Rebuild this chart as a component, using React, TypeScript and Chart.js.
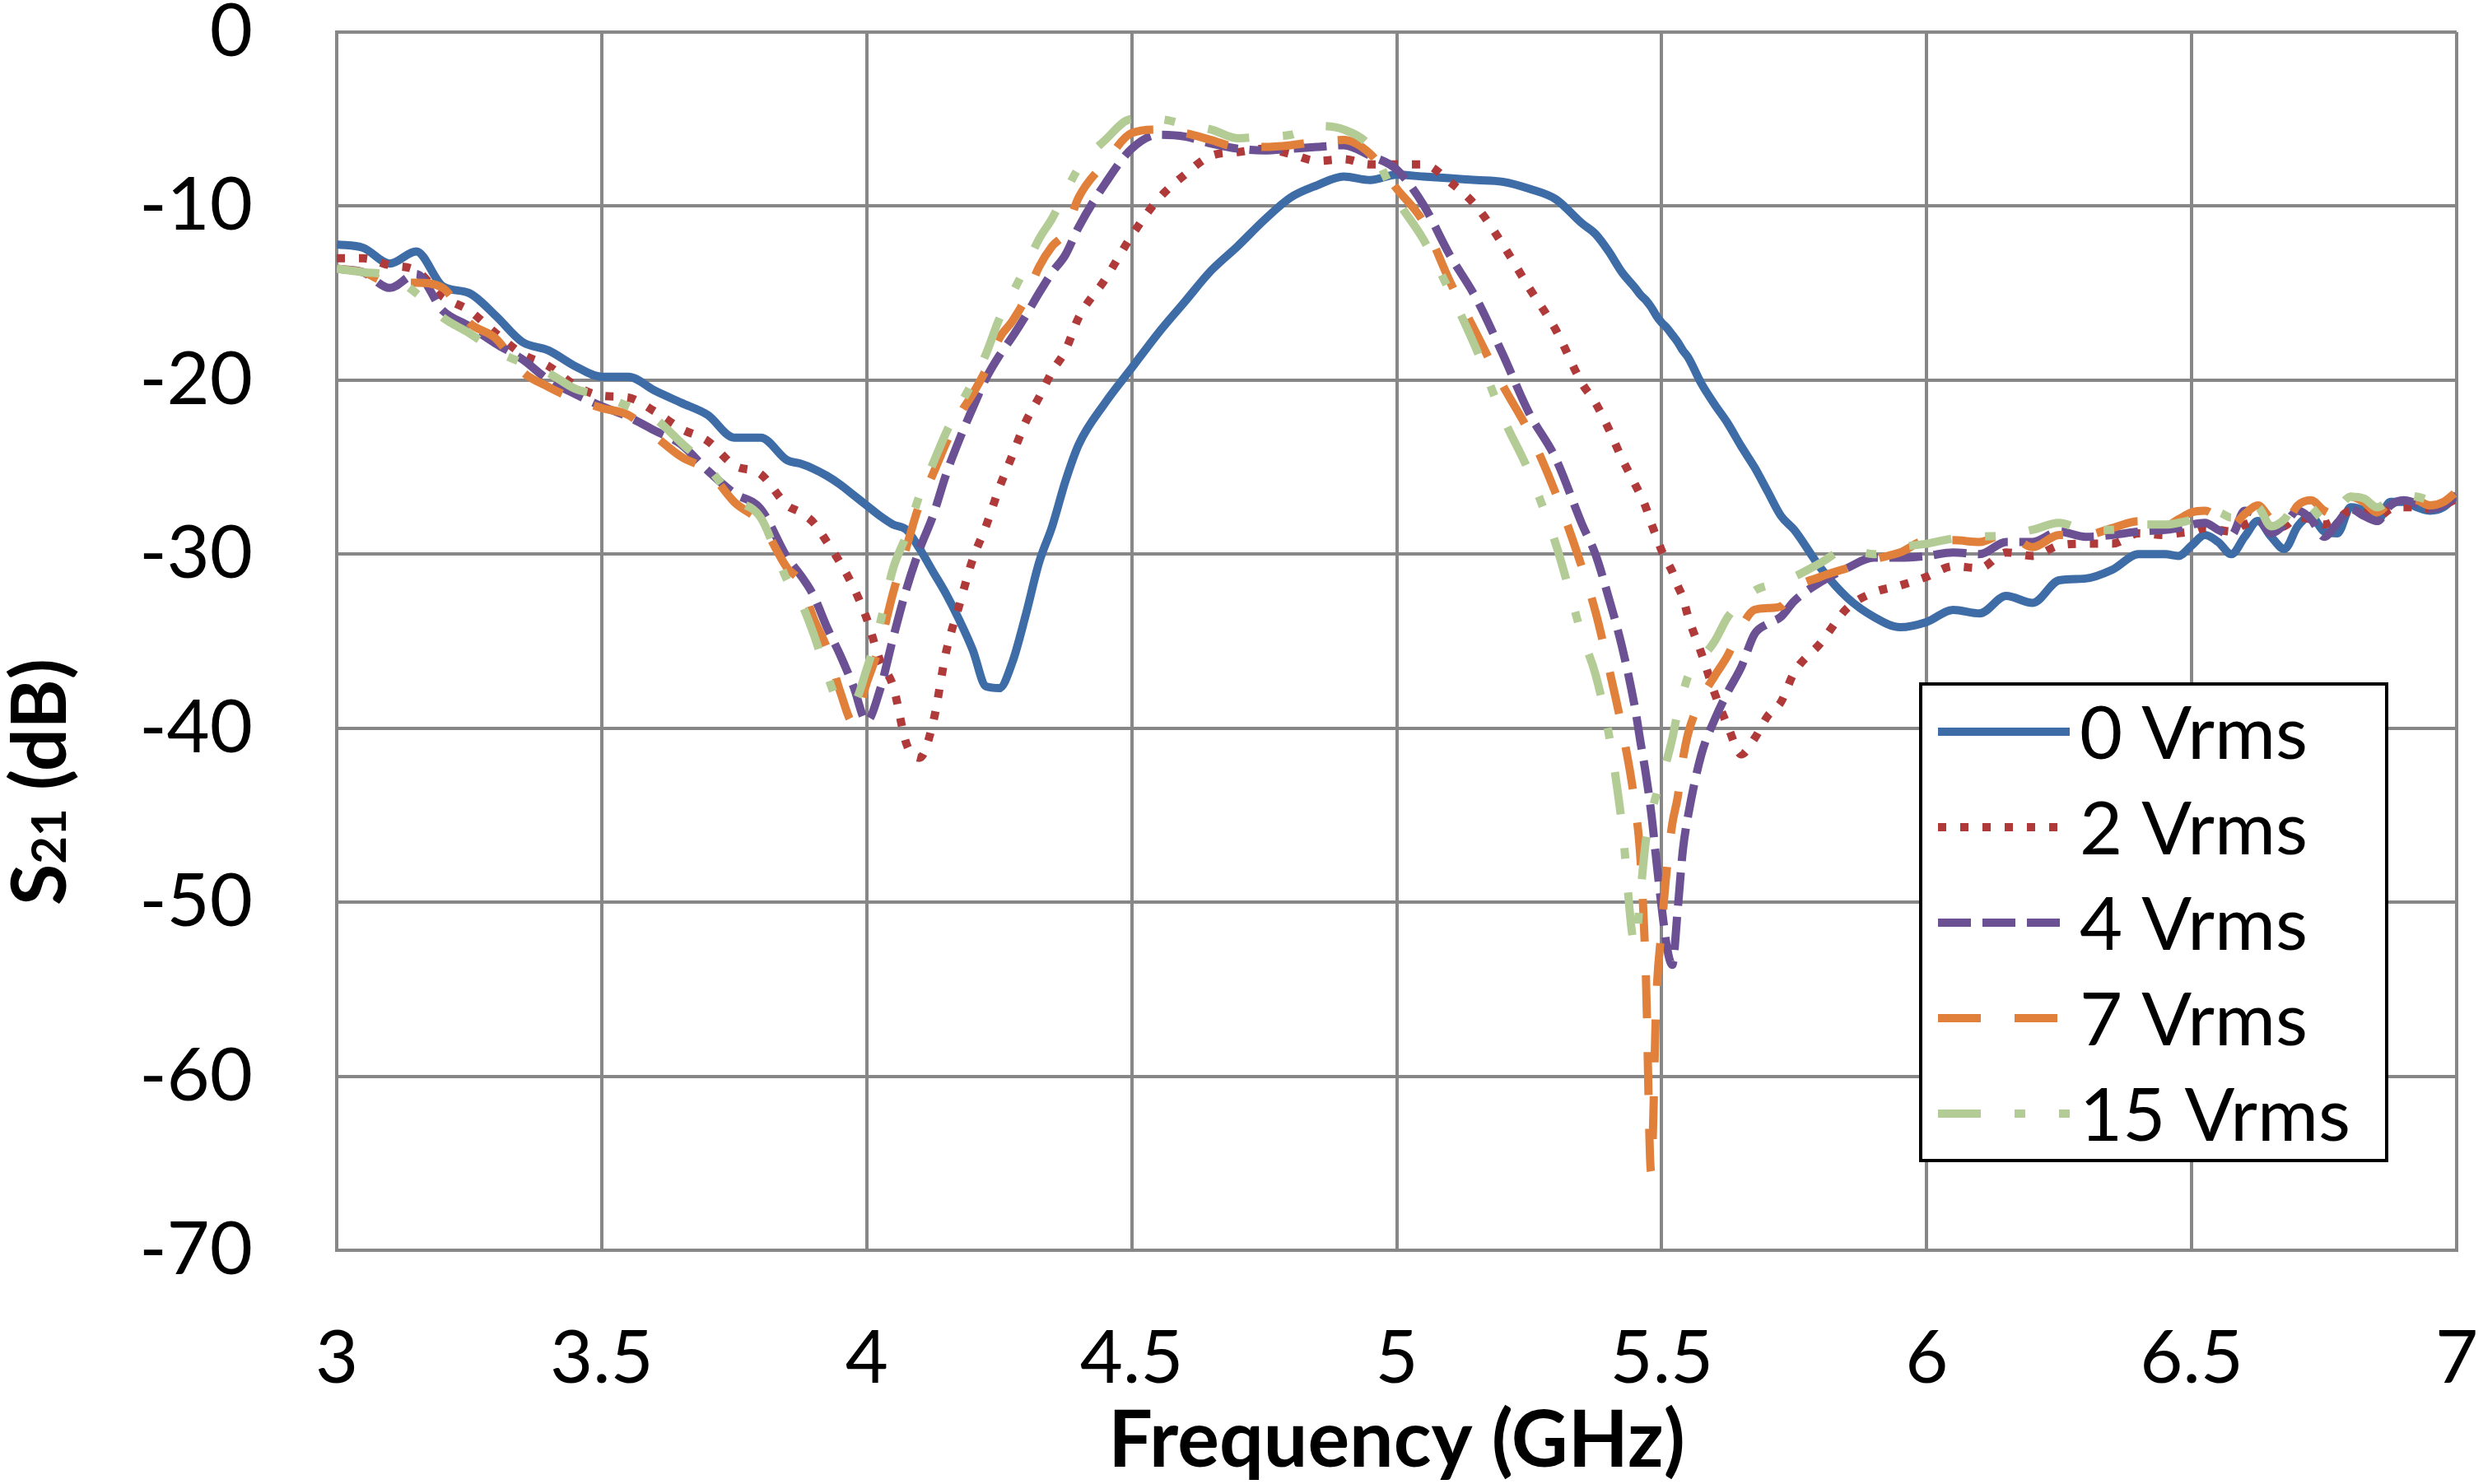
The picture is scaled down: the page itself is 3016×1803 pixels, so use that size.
import React, { useEffect, useRef } from 'react';
import { Chart, registerables } from 'chart.js';

Chart.register(...registerables);

// frequency grid (GHz), finer around the notches
const freq = [
  3.0, 3.05, 3.1, 3.15, 3.2, 3.25, 3.3, 3.35, 3.4, 3.45, 3.5, 3.55, 3.6, 3.65, 3.7, 3.75, 3.8,
  3.85, 3.875, 3.9, 3.925, 3.95, 3.975, 4.0, 4.025, 4.05, 4.075, 4.1, 4.125, 4.15, 4.175, 4.2, 4.225, 4.25, 4.275, 4.3, 4.325, 4.35, 4.375,
  4.4, 4.45, 4.5, 4.55, 4.6, 4.65, 4.7, 4.75, 4.8, 4.85, 4.9, 4.95, 5.0, 5.05, 5.1, 5.15, 5.2, 5.25, 5.3, 5.35,
  5.375, 5.4, 5.425, 5.45, 5.46, 5.47, 5.48, 5.49, 5.5, 5.51, 5.52, 5.53, 5.54, 5.55, 5.575, 5.6, 5.625, 5.65, 5.675, 5.7, 5.725, 5.75,
  5.8, 5.85, 5.9, 5.95, 6.0, 6.05, 6.1, 6.15, 6.2, 6.25, 6.3, 6.35, 6.4,
  6.45, 6.475, 6.5, 6.525, 6.55, 6.575, 6.6, 6.625, 6.65, 6.675, 6.7, 6.725, 6.75, 6.775, 6.8, 6.825, 6.85, 6.875, 6.9, 6.925, 6.95, 6.975, 7.0,
];

const s21At0 = [
  -12.2, -12.4, -13.3, -12.6, -14.6, -15.0, -16.3, -17.8, -18.3, -19.2, -19.8, -19.8, -20.6, -21.3, -22.0, -23.3, -23.3,
  -24.6, -24.8, -25.1, -25.5, -26.0, -26.6, -27.2, -27.8, -28.3, -28.6, -29.7, -31.0, -32.3, -33.8, -35.5, -37.6, -37.7, -36.2, -33.5, -30.5, -28.4, -25.8,
  -23.7, -21.3, -19.3, -17.3, -15.5, -13.7, -12.3, -10.8, -9.5, -8.8, -8.3, -8.5, -8.2, -8.3, -8.4, -8.5, -8.6, -9.0, -9.6, -11.0,
  -11.6, -12.6, -13.8, -14.7, -15.1, -15.4, -15.8, -16.3, -16.7, -17.0, -17.4, -17.8, -18.3, -18.7, -20.2, -21.4, -22.5, -23.8, -25.0, -26.4, -27.8, -28.6,
  -30.8, -32.5, -33.6, -34.2, -33.9, -33.2, -33.4, -32.4, -32.8, -31.5, -31.4, -30.9, -30.0,
  -30.0, -30.1, -29.5, -28.9, -29.3, -30.0, -29.0, -28.1, -29.0, -29.7, -28.4, -27.8, -28.7, -28.8, -27.3, -27.5, -28.1, -27.0, -27.0, -27.3, -27.5, -27.3, -26.6,
];

const s21At2 = [
  -13.0, -13.0, -13.4, -13.7, -15.2, -16.0, -17.3, -18.5, -19.2, -20.3, -20.9, -21.0, -21.8, -22.8, -23.5, -24.9, -25.4,
  -27.2, -27.6, -28.2, -29.3, -30.5, -31.9, -33.7, -36.1, -37.6, -40.9, -41.7, -39.7, -35.6, -32.9, -30.3, -28.4, -26.2, -24.3, -22.4, -21.0, -19.5, -18.3,
  -16.4, -14.2, -11.7, -9.6, -8.2, -7.1, -6.9, -6.7, -7.0, -7.4, -7.3, -7.6, -7.6, -7.6, -8.6, -10.0, -12.2, -14.7, -17.1, -20.2,
  -21.3, -22.8, -24.5, -26.0, -26.6, -27.3, -28.2, -29.0, -29.8, -30.4, -31.0, -31.8, -32.5, -33.6, -35.7, -38.0, -39.9, -41.5, -40.6, -39.3, -38.5, -36.8,
  -35.1, -33.1, -32.2, -31.8, -31.3, -30.7, -30.8, -29.9, -30.1, -29.5, -29.4, -29.4, -28.8,
  -28.9, -28.8, -28.7, -28.5, -28.6, -28.7, -28.3, -28.1, -28.5, -28.4, -27.9, -28.0, -28.3, -28.0, -27.5, -27.6, -27.9, -27.4, -27.3, -27.3, -27.4, -27.2, -26.8,
];

const s21At4 = [
  -13.6, -13.8, -14.7, -13.9, -16.0, -16.9, -17.9, -18.8, -20.0, -20.8, -21.5, -22.1, -22.9, -23.7, -25.2, -26.5, -27.4,
  -30.2, -31.2, -32.4, -34.2, -35.8, -37.6, -39.6, -37.8, -34.8, -32.0, -29.7, -27.8, -25.4, -23.4, -21.6, -19.9, -18.6, -17.5, -16.3, -15.0, -13.8, -12.8,
  -11.2, -8.7, -6.7, -5.9, -6.0, -6.4, -6.7, -6.8, -6.7, -6.6, -6.5, -7.1, -7.9, -9.9, -12.8, -15.3, -18.5, -21.9, -24.5, -28.3,
  -30.0, -32.5, -35.3, -38.9, -40.8, -42.6, -44.8, -47.6, -50.3, -52.6, -53.6, -50.5, -47.0, -45.0, -41.5, -39.5, -37.9, -36.5, -34.6, -34.0, -33.6, -32.7,
  -31.6, -30.8, -30.2, -30.2, -30.1, -29.9, -30.0, -29.3, -29.3, -28.7, -29.0, -28.9, -28.7,
  -28.6, -28.5, -28.3, -28.2, -28.6, -28.9, -27.5, -27.8, -28.8, -28.3, -27.5, -28.0, -29.0, -28.2, -27.4, -27.8, -28.1, -27.2, -26.9, -27.1, -27.4, -27.2, -26.6,
];

const s21At7 = [
  -13.6, -13.8, -14.4, -14.4, -14.7, -16.7, -17.6, -19.5, -20.4, -21.1, -21.6, -22.0, -23.2, -24.4, -25.2, -27.0, -28.2,
  -30.8, -31.6, -33.7, -35.4, -37.9, -39.7, -37.4, -35.2, -32.2, -29.6, -27.1, -25.4, -23.6, -22.0, -20.8, -19.4, -17.6, -16.6, -15.3, -13.5, -12.3, -11.5,
  -9.5, -7.5, -5.8, -5.6, -5.8, -6.2, -6.6, -6.6, -6.5, -6.3, -6.2, -7.0, -9.0, -10.9, -14.3, -17.3, -20.3, -23.0, -26.5, -30.8,
  -33.3, -36.5, -40.0, -44.5, -47.5, -54.0, -65.5, -55.5, -51.5, -48.0, -45.5, -44.0, -41.8, -40.3, -38.3, -37.0, -35.8, -34.2, -33.2, -33.1, -33.0, -32.0,
  -31.3, -30.8, -30.3, -29.9, -29.2, -29.2, -29.3, -28.8, -29.6, -28.9, -28.9, -28.5, -28.1,
  -28.4, -28.0, -27.6, -27.5, -27.9, -28.4, -27.7, -27.2, -28.0, -28.3, -27.2, -26.9, -27.5, -27.8, -26.7, -27.0, -27.6, -27.0, -26.8, -26.9, -27.2, -27.0, -26.4,
];

const s21At15 = [
  -13.6, -13.8, -14.0, -15.0, -16.4, -17.3, -18.3, -19.0, -19.6, -20.5, -20.9, -21.5, -22.2, -23.6, -25.0, -26.8, -27.9,
  -31.5, -32.7, -34.6, -36.9, -38.5, -38.5, -36.6, -34.0, -30.8, -28.9, -26.6, -24.8, -23.0, -21.5, -20.1, -18.5, -16.5, -15.0, -13.5, -11.9, -10.7, -9.2,
  -7.8, -6.2, -5.0, -5.0, -5.3, -5.6, -6.1, -6.0, -5.9, -5.4, -5.6, -6.6, -9.6, -11.9, -14.9, -18.2, -22.1, -25.3, -29.4, -34.7,
  -36.9, -40.3, -45.5, -52.5, -49.5, -46.5, -45.0, -43.8, -42.8, -41.8, -40.6, -39.1, -38.0, -37.0, -36.0, -35.0, -33.6, -32.8, -32.1, -31.8, -31.6, -31.3,
  -30.5, -29.7, -30.0, -29.6, -29.4, -29.1, -29.0, -28.9, -28.6, -28.2, -28.6, -28.6, -28.3,
  -28.3, -28.2, -28.0, -27.6, -27.6, -27.9, -27.2, -27.3, -28.4, -28.0, -27.0, -27.3, -28.0, -27.4, -26.7, -26.8, -27.3, -26.9, -26.6, -26.7, -26.9, -27.0, -26.8,
];

const seriesLabels = ['0 Vrms', '2 Vrms', '4 Vrms', '7 Vrms', '15 Vrms'];
const seriesValues = [s21At0, s21At2, s21At4, s21At7, s21At15];
const seriesColors = ['#3D6CA6', '#B03A3A', '#6B5193', '#E0803A', '#B3CB94'];
const seriesDash = [[], [10, 17], [40, 14], [52, 41], [52, 41, 13, 41]];

const xTickValues = [3, 3.5, 4, 4.5, 5, 5.5, 6, 6.5, 7];
const yTickValues = [0, -10, -20, -30, -40, -50, -60, -70];

const FONT = 'Lato, "Open Sans", sans-serif';
const GRID = '#878787';
const LINE_W = 10;

const W = 3016;
const H = 1803;
const PLOT = { left: 409, top: 39, right: 2984, bottom: 1519 };
const LEGEND = { left: 2333, top: 831, width: 566, height: 579, x0: 2354, x1: 2514, textX: 2526, row0: 889, rowGap: 116 };

const decor = {
  id: 'decor',
  afterDraw(chart: Chart) {
    const ctx = chart.ctx;
    const area = chart.chartArea;
    ctx.save();

    // x title
    ctx.fillStyle = '#000';
    ctx.font = `bold 95px ${FONT}`;
    ctx.textAlign = 'center';
    ctx.textBaseline = 'alphabetic';
    ctx.fillText('Frequency (GHz)', (area.left + area.right) / 2, 1782);

    // y title, S21 with a smaller subscript
    ctx.save();
    ctx.translate(80, 950);
    ctx.rotate(-Math.PI / 2);
    const parts: [string, string][] = [
      ['S', `bold 92px ${FONT}`],
      ['21', `bold 58px ${FONT}`],
      [' (dB)', `bold 92px ${FONT}`],
    ];
    let total = 0;
    parts.forEach(([t, f]) => {
      ctx.font = f;
      total += ctx.measureText(t).width;
    });
    let x = -total / 2;
    ctx.textAlign = 'left';
    parts.forEach(([t, f]) => {
      ctx.font = f;
      ctx.fillText(t, x, 0);
      x += ctx.measureText(t).width;
    });
    ctx.restore();

    // legend
    ctx.fillStyle = '#fff';
    ctx.fillRect(LEGEND.left, LEGEND.top, LEGEND.width, LEGEND.height);
    ctx.strokeStyle = '#000';
    ctx.lineWidth = 4;
    ctx.setLineDash([]);
    ctx.strokeRect(LEGEND.left, LEGEND.top, LEGEND.width, LEGEND.height);

    seriesLabels.forEach((label, i) => {
      const y = LEGEND.row0 + i * LEGEND.rowGap;
      ctx.beginPath();
      ctx.strokeStyle = seriesColors[i];
      ctx.lineWidth = LINE_W;
      ctx.lineCap = 'butt';
      ctx.setLineDash(seriesDash[i]);
      ctx.moveTo(LEGEND.x0, y);
      ctx.lineTo(LEGEND.x1, y);
      ctx.stroke();
      ctx.setLineDash([]);
      ctx.fillStyle = '#000';
      ctx.font = `90px ${FONT}`;
      ctx.textAlign = 'left';
      ctx.textBaseline = 'alphabetic';
      ctx.fillText(label, LEGEND.textX, y + 33);
    });

    ctx.restore();
  },
};

const S21Chart: React.FC = () => {
  const canvasRef = useRef<HTMLCanvasElement>(null);

  useEffect(() => {
    if (!canvasRef.current) return;

    const chart = new Chart(canvasRef.current, {
      type: 'line',
      data: {
        datasets: seriesLabels.map((label, i) => ({
          label,
          data: freq.map((f, k) => ({ x: f, y: seriesValues[i][k] })),
          borderColor: seriesColors[i],
          borderWidth: LINE_W,
          borderDash: seriesDash[i],
          borderCapStyle: 'butt' as const,
          pointRadius: 0,
          cubicInterpolationMode: 'monotone' as const,
          fill: false,
          order: seriesLabels.length - i,
        })),
      },
      options: {
        responsive: true,
        maintainAspectRatio: false,
        animation: false,
        devicePixelRatio: 1,
        layout: { padding: { top: PLOT.top, right: W - PLOT.right, bottom: 0, left: 0 } },
        plugins: { legend: { display: false }, tooltip: { enabled: false } },
        scales: {
          x: {
            type: 'linear',
            min: 3,
            max: 7,
            afterBuildTicks: (s: any) => {
              s.ticks = xTickValues.map((v) => ({ value: v }));
            },
            afterFit: (s: any) => {
              s.height = H - PLOT.bottom;
              s.paddingLeft = 0;
              s.paddingRight = 0;
            },
            ticks: {
              callback: (v: any) => String(v),
              font: { family: FONT, size: 90, lineHeight: 0.8 },
              color: '#000',
              padding: 96,
              maxRotation: 0,
              autoSkip: false,
            },
            grid: { color: GRID, lineWidth: 4, drawTicks: false },
            border: { color: GRID, width: 4 },
          },
          y: {
            min: -70,
            max: 0,
            afterBuildTicks: (s: any) => {
              s.ticks = yTickValues.map((v) => ({ value: v }));
            },
            afterFit: (s: any) => {
              s.width = PLOT.left;
              s.paddingTop = 0;
              s.paddingBottom = 0;
            },
            ticks: {
              callback: (v: any) => String(v),
              font: { family: FONT, size: 90, lineHeight: 0.8 },
              color: '#000',
              padding: 102,
            },
            grid: { color: GRID, lineWidth: 4, drawTicks: false },
            border: { color: GRID, width: 4 },
          },
        },
      },
      plugins: [decor],
    });

    return () => {
      chart.destroy();
    };
  }, []);

  return (
    <div style={{ position: 'fixed', left: 0, top: 0, width: W, height: H, background: '#fff' }}>
      <canvas ref={canvasRef} />
    </div>
  );
};

export default function App() {
  return <S21Chart />;
}
